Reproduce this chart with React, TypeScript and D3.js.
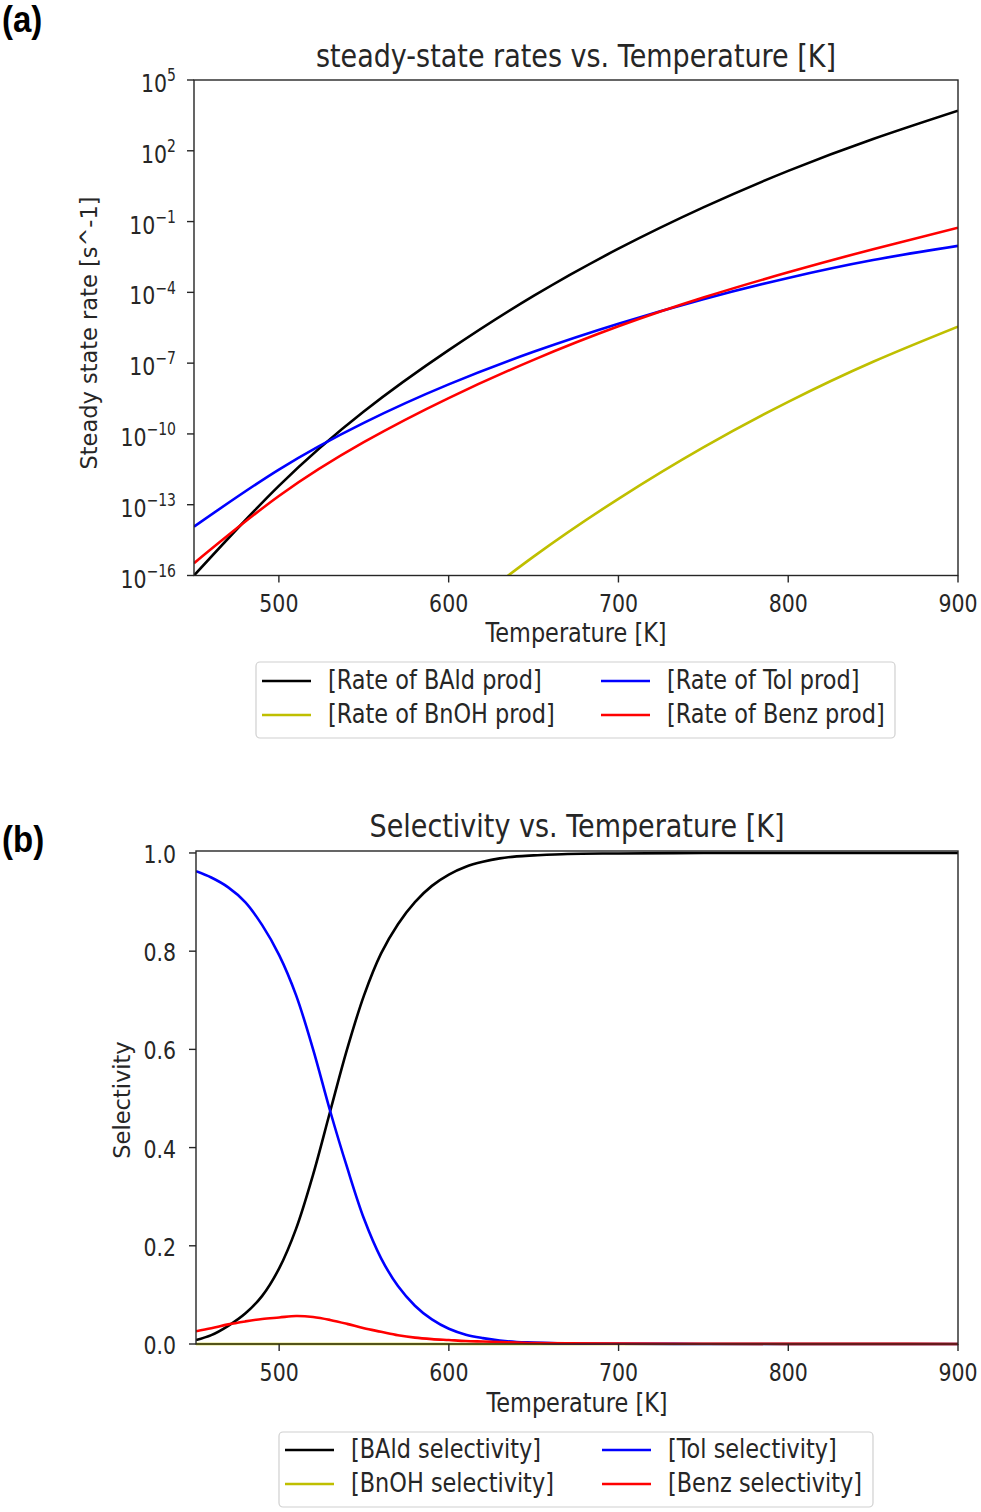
import React from "react";
import * as d3 from "d3";

// ---------- Data ----------
// Panel (a): log10 of steady-state rate [s^-1]
const T_A = [450, 500, 550, 600, 650, 700, 750, 800, 850, 900];
const LOG_BALD = [-16.0, -12.2, -9.05, -6.45, -4.15, -2.15, -0.4, 1.15, 2.5, 3.7];
const LOG_TOL = [-13.93, -11.51, -9.53, -7.9, -6.52, -5.33, -4.29, -3.39, -2.63, -2.03];
const LOG_BENZ = [-15.48, -12.63, -10.35, -8.48, -6.86, -5.44, -4.22, -3.15, -2.17, -1.26];
const T_BNOH = [600, 650, 700, 750, 800, 850, 900];
const LOG_BNOH = [-17.95, -15.2, -12.75, -10.57, -8.64, -6.94, -5.45];

// Panel (b): selectivity
const T_B = [451, 460, 470, 480, 490, 500, 510, 520, 530, 540, 550, 560, 570, 580, 590, 600, 610, 620, 630, 640, 650, 670, 700, 750, 800, 850, 900];
const SEL_BALD = [0.008, 0.018, 0.037, 0.062, 0.098, 0.154, 0.235, 0.345, 0.473, 0.6, 0.71, 0.795, 0.855, 0.9, 0.933, 0.956, 0.972, 0.982, 0.989, 0.993, 0.995, 0.998, 0.999, 1.0, 1.0, 1.0, 1.0];
const SEL_TOL = [0.963, 0.95, 0.93, 0.9, 0.853, 0.792, 0.71, 0.6, 0.475, 0.36, 0.255, 0.175, 0.118, 0.078, 0.05, 0.031, 0.019, 0.012, 0.007, 0.004, 0.003, 0.001, 0.0005, 0.0001, 0, 0, 0];
const SEL_BENZ = [0.026, 0.032, 0.04, 0.046, 0.051, 0.054, 0.057, 0.055, 0.049, 0.041, 0.032, 0.025, 0.018, 0.013, 0.01, 0.008, 0.006, 0.005, 0.004, 0.003, 0.002, 0.0015, 0.001, 0.0005, 0.0003, 0.0002, 0.0001];
const SEL_BNOH = [0, 0, 0, 0, 0, 0, 0, 0, 0, 0, 0, 0, 0, 0, 0, 0, 0, 0, 0, 0, 0, 0, 0, 0, 0, 0, 0];

const X_TICKS = [500, 600, 700, 800, 900];
const LOG_TICK_EXPS = [5, 2, -1, -4, -7, -10, -13, -16];
const SEL_TICKS = [0.0, 0.2, 0.4, 0.6, 0.8, 1.0];

const LEGEND_A = ["[Rate of BAld prod]", "[Rate of BnOH prod]", "[Rate of Tol prod]", "[Rate of Benz prod]"];
const LEGEND_B = ["[BAld selectivity]", "[BnOH selectivity]", "[Tol selectivity]", "[Benz selectivity]"];
const COLORS = ["#000000", "#bfbf00", "#0000ff", "#ff0000"];

// ---------- Layout ----------
const W = 981;
const H = 1512;
const FONT = "DejaVu Sans, sans-serif";
const SY = 1.2; // vertical text stretch seen in reference

const A = { left: 194, right: 958, top: 80, bottom: 575.5 };
const B = { left: 196, right: 958, top: 851, bottom: 1344 };

const xA = d3.scaleLinear().domain([450, 900]).range([A.left, A.right]);
const yA = d3.scaleLog().domain([1e-16, 1e5]).range([A.bottom, A.top]);
const xB = d3.scaleLinear().domain([451, 900]).range([B.left, B.right]);
const yB = d3.scaleLinear().domain([0, 1.004]).range([B.bottom, B.top]);

function Txt(props: {
  x: number; y: number; size: number; anchor?: string; weight?: string | number;
  family?: string; sy?: number; children: React.ReactNode; fill?: string;
}) {
  const { x, y, size, anchor = "start", weight = "normal", family = FONT, sy = SY, children, fill = "#262626" } = props;
  return (
    <text
      transform={`translate(${x},${y}) scale(1,${sy})`}
      fontSize={size}
      fontFamily={family}
      fontWeight={weight}
      textAnchor={anchor}
      fill={fill}
    >
      {children}
    </text>
  );
}

function Legend(props: { x: number; y: number; w: number; h: number; labels: string[]; col2x: number; row1: number; row2: number }) {
  const { x, y, w, h, labels, col2x, row1, row2 } = props;
  const pos = [
    [x + 6, row1],
    [x + 6, row2],
    [col2x, row1],
    [col2x, row2],
  ];
  return (
    <g>
      <rect x={x} y={y} width={w} height={h} rx={4} ry={4} fill="#fff" fillOpacity={0.8} stroke="#d0d0d0" strokeWidth={1.2} />
      {labels.map((lab, i) => (
        <g key={lab}>
          <line x1={pos[i][0]} x2={pos[i][0] + 49} y1={pos[i][1]} y2={pos[i][1]} stroke={COLORS[i]} strokeWidth={2.6} />
          <Txt x={pos[i][0] + 66} y={pos[i][1] + 8} size={22.4}>{lab}</Txt>
        </g>
      ))}
    </g>
  );
}

export default function App() {
  const lineA = d3
    .line<[number, number]>()
    .x((d) => xA(d[0]))
    .y((d) => yA(Math.pow(10, d[1])))
    .curve(d3.curveNatural);
  const lineB = d3
    .line<[number, number]>()
    .x((d) => xB(d[0]))
    .y((d) => yB(d[1]))
    .curve(d3.curveCatmullRom.alpha(0.5));

  const zip = (xs: number[], ys: number[]) => xs.map((x, i) => [x, ys[i]] as [number, number]);

  const seriesA = [
    zip(T_A, LOG_BALD),
    zip(T_BNOH, LOG_BNOH),
    zip(T_A, LOG_TOL),
    zip(T_A, LOG_BENZ),
  ];
  const seriesB = [
    zip(T_B, SEL_BALD),
    zip(T_B, SEL_BNOH),
    zip(T_B, SEL_TOL),
    zip(T_B, SEL_BENZ),
  ];

  const spine = "#262626";

  return (
    <svg width={W} height={H} style={{ position: "absolute", left: 0, top: 0, background: "#fff" }}>
      <defs>
        <clipPath id="clipA">
          <rect x={A.left} y={A.top} width={A.right - A.left} height={A.bottom - A.top} />
        </clipPath>
        <clipPath id="clipB">
          <rect x={B.left} y={B.top - 2} width={B.right - B.left} height={B.bottom - B.top + 4} />
        </clipPath>
      </defs>
      <rect x={0} y={0} width={W} height={H} fill="#fff" />

      {/* Panel labels */}
      <Txt x={2} y={32} size={33} weight="bold" family="Liberation Sans, Arial, sans-serif" sy={1.1} fill="#000">(a)</Txt>
      <Txt x={2} y={852} size={33} weight="bold" family="Liberation Sans, Arial, sans-serif" sy={1.1} fill="#000">(b)</Txt>

      {/* ---------- Panel (a) ---------- */}
      <Txt x={(A.left + A.right) / 2} y={67} size={27} anchor="middle">steady-state rates vs. Temperature [K]</Txt>
      <g clipPath="url(#clipA)">
        {seriesA.map((s, i) => (
          <path key={i} d={lineA(s) || ""} fill="none" stroke={COLORS[i]} strokeWidth={2.6} />
        ))}
      </g>
      <rect x={A.left} y={A.top} width={A.right - A.left} height={A.bottom - A.top} fill="none" stroke={spine} strokeWidth={1.4} />
      {X_TICKS.map((t) => (
        <g key={"xa" + t}>
          <line x1={xA(t)} x2={xA(t)} y1={A.bottom} y2={A.bottom + 7} stroke={spine} strokeWidth={1.4} />
          <Txt x={xA(t)} y={A.bottom + 36} size={20.5} anchor="middle">{String(t)}</Txt>
        </g>
      ))}
      {LOG_TICK_EXPS.map((e) => (
        <g key={"ya" + e}>
          <line x1={A.left - 7} x2={A.left} y1={yA(Math.pow(10, e))} y2={yA(Math.pow(10, e))} stroke={spine} strokeWidth={1.4} />
          <text
            transform={`translate(${A.left - 18},${yA(Math.pow(10, e)) + 12}) scale(1,${SY})`}
            fontSize={20.5}
            fontFamily={FONT}
            textAnchor="end"
            fill="#262626"
          >
            10
            <tspan dy={-9} fontSize={14}>{e < 0 ? "\u2212" + Math.abs(e) : String(e)}</tspan>
          </text>
        </g>
      ))}
      <Txt x={(A.left + A.right) / 2} y={642} size={22.4} anchor="middle">Temperature [K]</Txt>
      <text
        transform={`translate(97,333) rotate(-90)`}
        fontSize={22.5}
        fontFamily={FONT}
        textAnchor="middle"
        fill="#262626"
      >
        Steady state rate [s^-1]
      </text>
      <Legend x={256} y={662} w={639} h={76} labels={LEGEND_A} col2x={601} row1={681} row2={715} />

      {/* ---------- Panel (b) ---------- */}
      <Txt x={(B.left + B.right) / 2} y={837} size={27} anchor="middle">Selectivity vs. Temperature [K]</Txt>
      <g clipPath="url(#clipB)">
        {seriesB.map((s, i) => (
          <path key={i} d={lineB(s) || ""} fill="none" stroke={COLORS[i]} strokeWidth={2.6} />
        ))}
      </g>
      <rect x={B.left} y={B.top} width={B.right - B.left} height={B.bottom - B.top} fill="none" stroke={spine} strokeWidth={1.4} />
      {X_TICKS.map((t) => (
        <g key={"xb" + t}>
          <line x1={xB(t)} x2={xB(t)} y1={B.bottom} y2={B.bottom + 7} stroke={spine} strokeWidth={1.4} />
          <Txt x={xB(t)} y={B.bottom + 37} size={20.5} anchor="middle">{String(t)}</Txt>
        </g>
      ))}
      {SEL_TICKS.map((v) => (
        <g key={"yb" + v}>
          <line x1={B.left - 7} x2={B.left} y1={yB(v)} y2={yB(v)} stroke={spine} strokeWidth={1.4} />
          <Txt x={B.left - 20} y={yB(v) + 10} size={20.5} anchor="end">{v.toFixed(1)}</Txt>
        </g>
      ))}
      <Txt x={(B.left + B.right) / 2} y={1412} size={22.4} anchor="middle">Temperature [K]</Txt>
      <text
        transform={`translate(130,1100) rotate(-90)`}
        fontSize={22.5}
        fontFamily={FONT}
        textAnchor="middle"
        fill="#262626"
      >
        Selectivity
      </text>
      <Legend x={279} y={1432} w={594} h={75} labels={LEGEND_B} col2x={602} row1={1450} row2={1484} />
    </svg>
  );
}
